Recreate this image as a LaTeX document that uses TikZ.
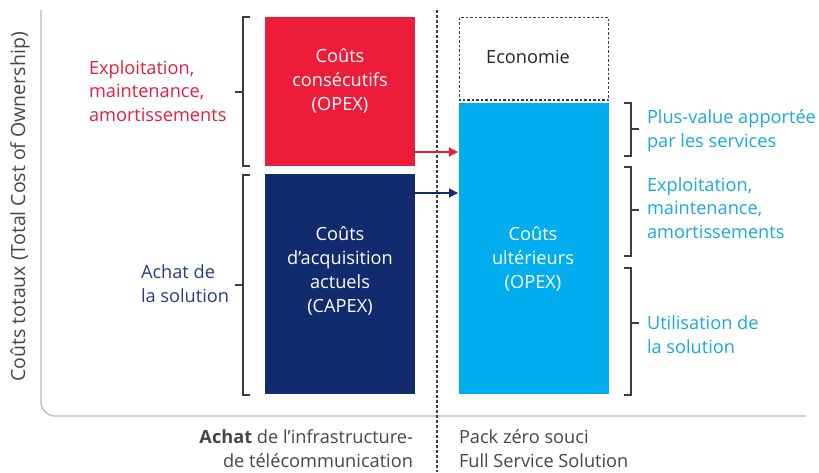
\documentclass[tikz,border=0pt]{standalone}
\usepackage{fontspec}
\setmainfont{Open Sans}
\usetikzlibrary{arrows.meta}
\definecolor{cred}{RGB}{237,28,58}
\definecolor{cnavy}{RGB}{18,42,110}
\definecolor{ccyan}{RGB}{0,174,239}
\definecolor{tred}{RGB}{230,30,65}
\definecolor{tnavy}{RGB}{38,60,134}
\definecolor{tcyan}{RGB}{26,168,224}
\definecolor{cgray}{RGB}{60,60,66}
\definecolor{caxis}{RGB}{185,185,185}
\definecolor{ctext}{RGB}{70,70,70}
\begin{document}
\begin{tikzpicture}[x=1pt,y=-1pt,
  every node/.style={inner sep=0pt,outer sep=0pt,font=\fontsize{18.2}{23.8}\selectfont},
  boxtext/.style={text=white,align=center},
  brk/.style={draw=cgray,line width=1.3pt},
  lbl/.style={align=left,anchor=west},
  conn/.style={line width=1.2pt,-{Triangle[length=9pt,width=9pt]}}]
\useasboundingbox (0,0) rectangle (819,472);
% axis
\draw[caxis,line width=1.3pt,rounded corners=14pt] (41,10) -- (41,416) -- (806,416);
% dotted divider
\draw[cgray,line width=1.2pt,dash pattern=on 2.5pt off 2.5pt] (437,10) -- (437,472);
% bars
\fill[cred] (265,17) rectangle (415,166);
\fill[cnavy] (265,174) rectangle (415,394);
\fill[ccyan] (459,103) rectangle (609,394);
\draw[cgray,line width=1.2pt,dash pattern=on 2.5pt off 2pt] (459.5,17.5) rectangle (608.5,100);
\coordinate (r1) at (415,152); \coordinate (r2) at (458,152);
\coordinate (b1) at (415,193); \coordinate (b2) at (458,193);
\draw[conn,cred] (r1) -- (r2);
\draw[conn,cnavy] (b1) -- (b2);
% box texts
\node[boxtext] (t1) at (340,81) {Coûts\\consécutifs\\(OPEX)};
\node[boxtext] (t2) at (340,271) {Coûts\\d’acquisition\\actuels\\(CAPEX)};
\node[boxtext] (t3) at (533,259) {Coûts\\ultérieurs\\(OPEX)};
\node[text=black!85] (t4) at (528,57) {Economie};
% left brackets
\draw[brk] (250,17) -- (243,17) -- (243,166) -- (250,166);
\draw[brk] (235,92) -- (243,92);
\draw[brk] (250,175) -- (243,175) -- (243,395) -- (250,395);
\draw[brk] (235,285) -- (243,285);
% right brackets
\draw[brk] (624,103) -- (631,103) -- (631,156) -- (624,156);
\draw[brk] (631,129) -- (639,129);
\draw[brk] (624,167) -- (631,167) -- (631,256) -- (624,256);
\draw[brk] (631,210) -- (639,210);
\draw[brk] (624,268) -- (631,268) -- (631,395) -- (624,395);
\draw[brk] (631,323) -- (639,323);
% labels
\node[lbl,text=tred] (l1) at (89,91) {Exploitation,\\maintenance,\\amortissements};
\node[lbl,text=tnavy] (l2) at (141,284) {Achat de\\la solution};
\node[lbl,text=tcyan] (l3) at (647,131) {Plus-value apportée\\par les services};
\node[lbl,text=tcyan] (l4) at (647,208) {Exploitation,\\maintenance,\\amortissements};
\node[lbl,text=tcyan] (l5) at (647,335) {Utilisation de\\la solution};
% axis labels
\node[text=ctext,rotate=90,font=\fontsize{19.5}{24}\selectfont] (ya) at (20,207) {Coûts totaux (Total Cost of Ownership)};
\node[text=ctext,align=right,anchor=east] (xa) at (413,449) {\textbf{Achat} de l’infrastructure-\\de télécommunication};
\node[text=ctext,align=left,anchor=west] (xb) at (459,449) {Pack zéro souci\\Full Service Solution};
\end{tikzpicture}
\end{document}
